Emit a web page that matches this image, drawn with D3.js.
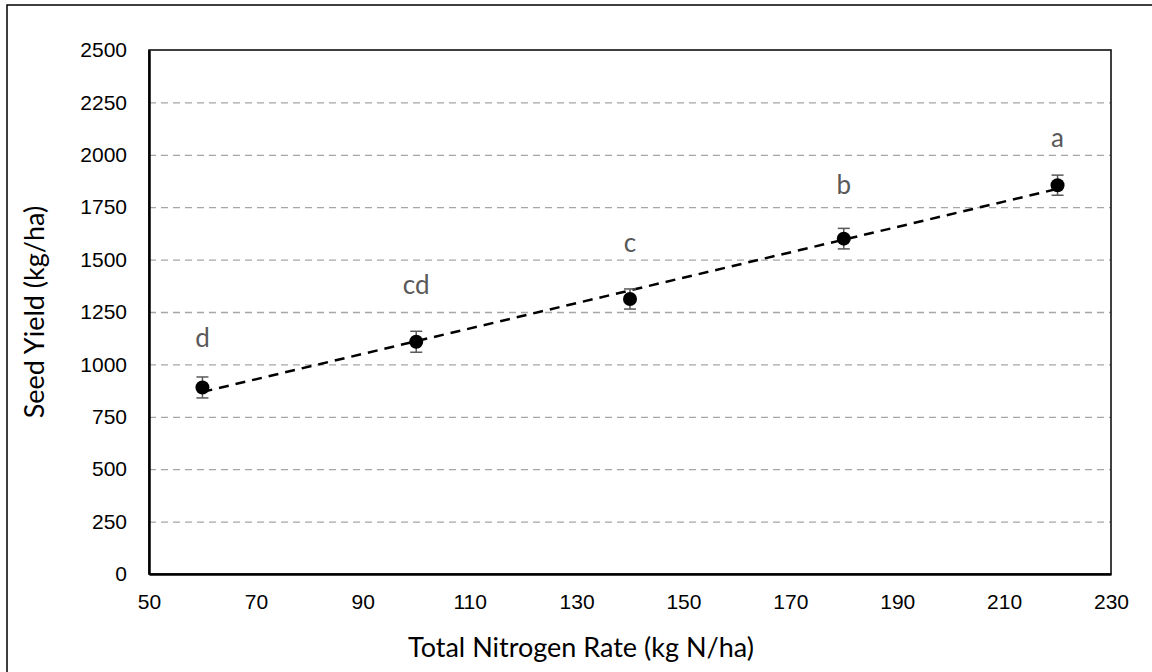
<!DOCTYPE html>
<html>
<head>
<meta charset="utf-8">
<script src="https://cdn.jsdelivr.net/npm/d3@7"></script>
<style>
  body { margin: 0; background: #fff; }
  svg { display: block; font-family: Lato, 'Open Sans', sans-serif; }
</style>
</head>
<body>
<svg id="chart"></svg>
<script>
var nitrogen = [60, 100, 140, 180, 220];
var yieldMean = [890, 1108, 1312, 1600, 1855];
var yieldErr = [50, 50, 48, 49, 48];
var letters = ['d', 'cd', 'c', 'b', 'a'];
var letterY = [1084, 1336, 1536, 1811, 2039];
var xTicks = [50, 70, 90, 110, 130, 150, 170, 190, 210, 230];
var yTicks = [0, 250, 500, 750, 1000, 1250, 1500, 1750, 2000, 2250, 2500];

function dataViz() {
  var W = 1152, H = 672;
  var margins = {top: 50, bottom: 98, left: 149, right: 41};
  var width = W - margins.left - margins.right;
  var height = H - margins.top - margins.bottom;

  var svg = d3.select('#chart')
    .attr('width', W)
    .attr('height', H);

  // outer chart border
  svg.append('rect')
    .attr('x', 7)
    .attr('y', 5)
    .attr('width', 1170)
    .attr('height', 700)
    .style('fill', 'none')
    .style('stroke', '#000')
    .style('stroke-width', 1.5);

  var g = svg.append('g')
    .attr('transform', `translate(${margins.left}, ${margins.top})`);

  var xScale = d3.scaleLinear().domain([50, 230]).range([0, width]);
  var yScale = d3.scaleLinear().domain([0, 2500]).range([height, 0]);

  // gridlines
  g.append('g')
    .attr('class', 'grid')
    .call(d3.axisLeft(yScale).tickValues(yTicks.slice(1, -1)).tickSize(-width).tickFormat(''))
    .call(s => s.select('.domain').remove())
    .selectAll('line')
    .style('stroke', '#a6a6a6')
    .style('stroke-width', 1.3)
    .style('stroke-dasharray', '7,5');

  // plot border top / right
  g.append('rect')
    .attr('width', width)
    .attr('height', height)
    .style('fill', 'none')
    .style('stroke', '#000')
    .style('stroke-width', 1.5);

  // axes
  var yAxis = g.append('g')
    .call(d3.axisLeft(yScale).tickValues(yTicks).tickFormat(d3.format('d')).tickSize(0).tickPadding(22));
  yAxis.select('.domain').style('stroke', '#000').style('stroke-width', 2.5);
  yAxis.selectAll('text').style('font-size', '21px').style('fill', '#000');

  var xAxis = g.append('g')
    .attr('transform', `translate(0, ${height})`)
    .call(d3.axisBottom(xScale).tickValues(xTicks).tickFormat(d3.format('d')).tickSize(0).tickPadding(20));
  xAxis.select('.domain').style('stroke', '#000').style('stroke-width', 2.5);
  xAxis.selectAll('text').style('font-size', '21px').style('fill', '#000');

  var data = nitrogen.map((n, i) => ({n: n, y: yieldMean[i], e: yieldErr[i], lab: letters[i], ly: letterY[i]}));

  // linear trendline (least squares)
  var mx = d3.mean(data, d => d.n), my = d3.mean(data, d => d.y);
  var slope = d3.sum(data, d => (d.n - mx) * (d.y - my)) / d3.sum(data, d => (d.n - mx) * (d.n - mx));
  var icpt = my - slope * mx;
  var xr = d3.extent(nitrogen);
  g.append('line')
    .attr('x1', xScale(xr[0]))
    .attr('x2', xScale(xr[1]))
    .attr('y1', yScale(icpt + slope * xr[0]))
    .attr('y2', yScale(icpt + slope * xr[1]))
    .style('stroke', '#000')
    .style('stroke-width', 2.5)
    .style('stroke-dasharray', '10,7');

  // error bars
  g.selectAll('g.err')
    .data(data)
    .enter()
    .append('g')
    .attr('class', 'err')
    .each(function(d) {
      var s = d3.select(this);
      var x = xScale(d.n);
      s.append('line')
        .attr('x1', x).attr('x2', x)
        .attr('y1', yScale(d.y + d.e)).attr('y2', yScale(d.y - d.e));
      s.append('line')
        .attr('x1', x - 6).attr('x2', x + 6)
        .attr('y1', yScale(d.y + d.e)).attr('y2', yScale(d.y + d.e));
      s.append('line')
        .attr('x1', x - 6).attr('x2', x + 6)
        .attr('y1', yScale(d.y - d.e)).attr('y2', yScale(d.y - d.e));
      s.selectAll('line').style('stroke', '#595959').style('stroke-width', 1.5);
    });

  g.selectAll('circle')
    .data(data)
    .enter()
    .append('circle')
    .attr('r', 7)
    .attr('cx', d => xScale(d.n))
    .attr('cy', d => yScale(d.y))
    .style('fill', '#000');

  g.selectAll('text.letter')
    .data(data)
    .enter()
    .append('text')
    .attr('class', 'letter')
    .attr('x', d => xScale(d.n))
    .attr('y', d => yScale(d.ly))
    .attr('text-anchor', 'middle')
    .style('font-size', '26px')
    .style('fill', '#595959')
    .text(d => d.lab);

  // axis titles
  svg.append('text')
    .attr('x', 581)
    .attr('y', 657)
    .attr('text-anchor', 'middle')
    .style('font-size', '27px')
    .style('fill', '#000')
    .text('Total Nitrogen Rate (kg N/ha)');

  svg.append('text')
    .attr('transform', `translate(44, ${margins.top + height / 2}) rotate(-90)`)
    .attr('text-anchor', 'middle')
    .style('font-size', '27px')
    .style('fill', '#000')
    .text('Seed Yield (kg/ha)');
}

dataViz();
</script>
</body>
</html>
